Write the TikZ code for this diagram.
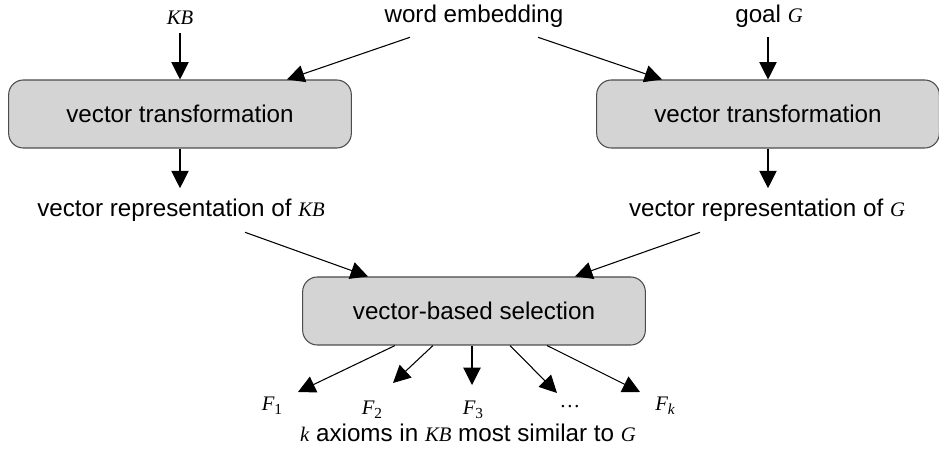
\documentclass[tikz,border=0pt]{standalone}
\usepackage{fontspec}
\setmainfont{Liberation Sans}
\newfontfamily\mserif{Liberation Serif}
\usetikzlibrary{arrows.meta,calc}
\newcommand\mv[1]{{\fontsize{15.5}{18}\selectfont\mserif\itshape #1}}
\newcommand\msub[1]{\raisebox{-0.2em}{\fontsize{11.5}{13}\selectfont\mserif #1}}
\begin{document}
\begin{tikzpicture}[x=0.75pt,y=-0.75pt,
  box/.style={draw=black!70,fill=black!17,line width=0.8pt,rounded corners=11pt,
    minimum width=257pt,minimum height=51pt,inner sep=0pt},
  lbl/.style={inner sep=0pt,anchor=base},
  arr/.style={-{Triangle[length=13pt,width=13pt]},line width=0.8pt},
  font=\fontsize{18.15}{21}\selectfont]
\useasboundingbox (0,0) rectangle (939,452);

\node[lbl] (kb) at (180,25) {\mv{KB}};
\node[lbl] (we) at (474,23) {word embedding};
\node[lbl] (goal) at (769,23) {goal \mv{G}};
\node[box] (lbox) at (180,114) {vector transformation};
\node[box] (rbox) at (768,114) {vector transformation};
\node[lbl] (lrep) at (181,217) {vector representation of \mv{KB}};
\node[lbl] (rrep) at (767,217) {vector representation of \mv{G}};
\node[box] (sel) at (474,311) {vector-based selection};
\node[lbl] (f1) at (272,410) {\mv{F}\msub{1}};
\node[lbl] (f2) at (372,414) {\mv{F}\msub{2}};
\node[lbl] (f3) at (473,414) {\mv{F}\msub{3}};
\node[lbl] (fd) at (570,410) {\raisebox{2pt}{\mv{\upshape …}}};
\node[lbl] (fk) at (665,410) {\mv{F}\msub{\itshape k}};
\node[lbl] (res) at (468,441) {\mv{k} axioms in \mv{KB} most similar to \mv{G}};

\draw[arr] ($(kb.south)+(0,8)$) -- (lbox.north);
\draw[arr] ($(we.south)+(-64,9)$) -- ($(lbox.north)+(107,0)$);
\draw[arr] ($(we.south)+(64,9)$) -- ($(rbox.north)+(-106,0)$);
\draw[arr] ($(rbox.north |- goal.south)+(0,9)$) -- (rbox.north);
\draw[arr] (lbox.south) -- ($(lbox.south |- lrep.north)+(0,-11)$);
\draw[arr] (rbox.south) -- ($(rbox.south |- rrep.north)+(0,-11)$);
\draw[arr] ($(lrep.south)+(64,10)$) -- ($(sel.north)+(-106,0)$);
\draw[arr] ($(rrep.south)+(-67,10)$) -- ($(sel.north)+(101,0)$);
\draw[arr] ($(sel.south)+(-79,0)$) -- ($(f1.base)+(26,-18)$);
\draw[arr] ($(sel.south)+(-41,0)$) -- ($(f2.base)+(21,-31)$);
\draw[arr] ($(sel.south)+(-2,0)$) -- ($(f3.base)+(-1,-29)$);
\draw[arr] ($(sel.south)+(36,0)$) -- ($(fd.base)+(-13,-17)$);
\draw[arr] ($(sel.south)+(73,0)$) -- ($(fk.base)+(-25,-18)$);
\end{tikzpicture}
\end{document}
